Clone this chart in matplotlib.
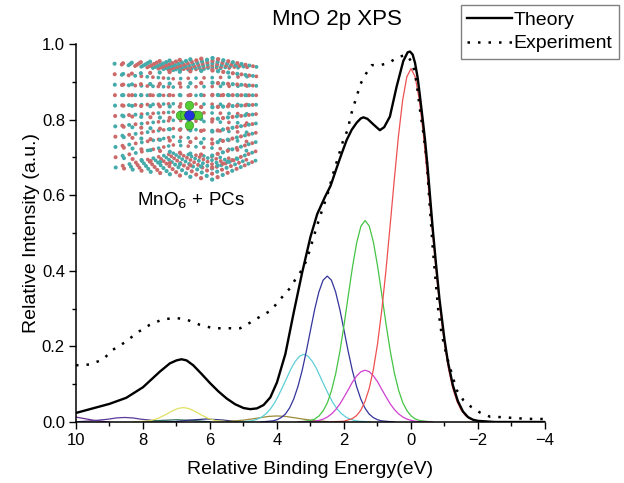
import numpy as np
import matplotlib
matplotlib.use('Agg')
import matplotlib.pyplot as plt

plt.rcParams['font.family'] = ['Liberation Sans', 'DejaVu Sans']

# theory (solid black)
theory_x = [10, 9.5, 9, 8.5, 8, 7.5, 7.2, 7.0, 6.85, 6.7, 6.5, 6.25, 6.0, 5.75, 5.5,
            5.25, 5.0, 4.8, 4.6, 4.4, 4.2, 4.0, 3.75, 3.5, 3.25, 3.0, 2.8, 2.57, 2.4,
            2.22, 2.07, 1.92, 1.77, 1.62, 1.5, 1.42, 1.3, 1.12, 0.93, 0.8, 0.63, 0.43,
            0.23, 0.1, 0.03, -0.05, -0.12, -0.2, -0.27, -0.35, -0.42, -0.5, -0.57,
            -0.65, -0.75, -0.85, -1.0, -1.1, -1.25, -1.4, -1.55, -1.7, -1.85, -2.0,
            -2.5, -4.0]
theory_y = [0.024, 0.036, 0.048, 0.064, 0.092, 0.133, 0.155, 0.163, 0.166, 0.163,
            0.150, 0.127, 0.103, 0.081, 0.062, 0.047, 0.037, 0.034, 0.036, 0.045,
            0.065, 0.105, 0.18, 0.29, 0.395, 0.49, 0.55, 0.595, 0.625, 0.672, 0.71,
            0.746, 0.773, 0.792, 0.803, 0.806, 0.802, 0.787, 0.772, 0.78, 0.808,
            0.887, 0.955, 0.978, 0.98, 0.972, 0.95, 0.91, 0.86, 0.80, 0.745, 0.67,
            0.595, 0.51, 0.415, 0.325, 0.218, 0.16, 0.097, 0.055, 0.028, 0.013,
            0.006, 0.003, 0.0, 0.0]

# experiment (dotted)
exp_x = [10, 9.84, 9.6, 9.2, 8.9, 8.5, 8.2, 7.8, 7.4, 7.0, 6.7, 6.3, 5.9, 5.5, 5.1,
         4.8, 4.5, 4.2, 3.96, 3.76, 3.61, 3.46, 3.26, 3.11, 2.87, 2.72, 2.5, 2.32,
         2.17, 2.02, 1.87, 1.82, 1.72, 1.62, 1.52, 1.37, 1.17, 0.93, 0.68, 0.38,
         0.13, -0.05, -0.17, -0.27, -0.37, -0.47, -0.52, -0.65, -0.81, -0.91,
         -1.07, -1.36, -1.56, -1.81, -2.06, -2.36, -2.66, -3.0, -3.35, -3.64, -4.0]
exp_y = [0.15, 0.151, 0.152, 0.165, 0.191, 0.213, 0.235, 0.257, 0.272, 0.275, 0.271,
         0.257, 0.248, 0.248, 0.248, 0.263, 0.279, 0.294, 0.318, 0.34, 0.354, 0.376,
         0.402, 0.429, 0.5, 0.543, 0.6, 0.658, 0.702, 0.746, 0.777, 0.804, 0.834,
         0.861, 0.892, 0.918, 0.944, 0.944, 0.949, 0.966, 0.971, 0.949, 0.896,
         0.825, 0.764, 0.693, 0.622, 0.46, 0.30, 0.235, 0.173, 0.085, 0.058, 0.039,
         0.025, 0.014, 0.013, 0.011, 0.009, 0.008, 0.008]

# components (thin coloured lines)
red_x = [2.5, 2.0, 1.75, 1.625, 1.5, 1.375, 1.25, 1.125, 1.0, 0.875, 0.75, 0.625,
         0.5, 0.375, 0.25, 0.125, 0.0, -0.125, -0.25, -0.375, -0.5, -0.625, -0.75,
         -0.875, -1.0, -1.125, -1.25, -1.375, -1.5, -1.625, -1.75, -2.0, -2.5]
red_y = [0.0, 0.002, 0.009, 0.017, 0.031, 0.054, 0.088, 0.138, 0.206, 0.294, 0.399,
         0.518, 0.640, 0.756, 0.851, 0.913, 0.935, 0.913, 0.851, 0.756, 0.640, 0.518,
         0.399, 0.294, 0.206, 0.138, 0.088, 0.054, 0.031, 0.017, 0.009, 0.002, 0.0]
green_x = [3.37, 2.995, 2.87, 2.745, 2.62, 2.495, 2.37, 2.245, 2.12, 1.995, 1.87,
           1.745, 1.62, 1.495, 1.37, 1.245, 1.12, 0.995, 0.87, 0.745, 0.62, 0.495,
           0.37, 0.245, 0.12, -0.005, -0.13, -0.255, -0.63]
green_y = [0.0, 0.004, 0.008, 0.016, 0.030, 0.051, 0.084, 0.129, 0.188, 0.259, 0.336,
           0.411, 0.475, 0.518, 0.533, 0.518, 0.475, 0.411, 0.336, 0.259, 0.188, 0.129,
           0.084, 0.051, 0.030, 0.016, 0.008, 0.004, 0.0]
magenta_y = [0.0, 0.001, 0.002, 0.0042, 0.0076, 0.0132, 0.0215, 0.033, 0.048, 0.0665,
             0.086, 0.106, 0.122, 0.133, 0.137, 0.133, 0.122, 0.106, 0.086, 0.0665,
             0.048, 0.033, 0.0215, 0.0132, 0.0076, 0.0042, 0.002, 0.001, 0.0]
blue_x = [4.5, 4.125, 4.0, 3.875, 3.75, 3.625, 3.5, 3.375, 3.25, 3.125, 3.0, 2.875,
          2.75, 2.625, 2.5, 2.375, 2.25, 2.125, 2.0, 1.875, 1.75, 1.625, 1.5, 1.375,
          1.25, 1.125, 1.0, 0.875, 0.5]
blue_y = [0.0, 0.003, 0.006, 0.0117, 0.021, 0.037, 0.061, 0.094, 0.136, 0.187, 0.243,
          0.298, 0.344, 0.375, 0.386, 0.375, 0.344, 0.298, 0.243, 0.187, 0.136, 0.094,
          0.061, 0.037, 0.021, 0.0117, 0.006, 0.003, 0.0]
cyan_x = [5.2, 4.825, 4.7, 4.575, 4.45, 4.325, 4.2, 4.075, 3.95, 3.825, 3.7, 3.575,
          3.45, 3.325, 3.2, 3.075, 2.95, 2.825, 2.7, 2.575, 2.45, 2.325, 2.2, 2.075,
          1.95, 1.825, 1.7, 1.575, 1.2]
cyan_y = [0.0, 0.0023, 0.0043, 0.0079, 0.0135, 0.022, 0.034, 0.050, 0.071, 0.094,
          0.118, 0.142, 0.161, 0.174, 0.179, 0.174, 0.161, 0.142, 0.118, 0.094, 0.071,
          0.050, 0.034, 0.022, 0.0135, 0.0079, 0.0043, 0.0023, 0.0]
olive_x = [5.5, 5.0, 4.75, 4.5, 4.25, 4.0, 3.75, 3.5, 3.25, 3.0, 2.5]
olive_y = [0.001, 0.005, 0.008, 0.0115, 0.0148, 0.016, 0.0148, 0.0115, 0.008, 0.005, 0.001]
yellow_x = [8.3, 7.8, 7.55, 7.3, 7.175, 7.05, 6.925, 6.8, 6.675, 6.55, 6.425, 6.3,
            6.05, 5.8, 5.3]
yellow_y = [0.0, 0.003, 0.0095, 0.0205, 0.027, 0.0326, 0.0365, 0.038, 0.0365, 0.0326,
            0.027, 0.0205, 0.0095, 0.003, 0.0]
purple_x = [10, 9.5, 9.05, 8.8, 8.55, 8.3, 8.05, 7.6, 7.0]
purple_y = [0.0005, 0.0033, 0.0073, 0.0107, 0.012, 0.0107, 0.0073, 0.0033, 0.0005]
violet_x = [10, 9.75, 9.5, 9.25, 9.0]
violet_y = [0.013, 0.009, 0.005, 0.002, 0.0]
teal_x = [8.0, 7.5, 7.0, 6.5, 6.0]
teal_y = [0.0005, 0.004, 0.006, 0.004, 0.0005]
navy_x = [7.1, 6.6, 6.1, 5.6, 5.1]
navy_y = [0.0005, 0.005, 0.008, 0.005, 0.0005]

components = [
    (violet_x, violet_y, '#6a2d8a'),
    (purple_x, purple_y, '#5a3a9a'),
    (teal_x, teal_y, '#2f6f5f'),
    (navy_x, navy_y, '#303080'),
    (yellow_x, yellow_y, '#e0e060'),
    (olive_x, olive_y, '#9a8a3a'),
    (cyan_x, cyan_y, '#5ccfd6'),
    (blue_x, blue_y, '#34349c'),
    (green_x, green_y, '#44c444'),
    (green_x, magenta_y, '#d040d0'),
    (red_x, red_y, '#ee5050'),
]

fig = plt.figure(figsize=(6.24, 4.83), dpi=100)
ax = fig.add_axes([76 / 624, 1 - 422 / 483, 469 / 624, 378 / 483])

for cx, cy, col in components:
    ax.plot(cx, cy, color=col, lw=0.9)

ln_t, = ax.plot(theory_x, theory_y, color='black', lw=1.7, label='Theory')
ln_e, = ax.plot(exp_x, exp_y, color='black', lw=1.8, linestyle=(0, (1, 3.2)),
                label='Experiment')

ax.set_xlim(10, -4)
ax.set_ylim(0, 1.0)
ax.set_xticks(np.arange(10, -4.1, -2))
ax.set_xticks(np.arange(9, -4, -2), minor=True)
ax.set_yticks(np.arange(0, 1.01, 0.2))
ax.set_yticks(np.arange(0.1, 1.0, 0.2), minor=True)
ax.set_xticklabels(['10', '8', '6', '4', '2', '0', '\u22122', '\u22124'])
ax.yaxis.set_major_formatter(matplotlib.ticker.FormatStrFormatter('%.1f'))
ax.tick_params(which='major', direction='out', length=5, width=1, labelsize=12, pad=3)
ax.tick_params(which='minor', direction='out', length=3, width=1)
for s in ['top', 'right']:
    ax.spines[s].set_visible(False)
for s in ['left', 'bottom']:
    ax.spines[s].set_linewidth(1.1)
ax.set_xlabel('Relative Binding Energy(eV)', fontsize=14, labelpad=9)
ax.set_ylabel('Relative Intensity (a.u.)', fontsize=14, labelpad=1)

fig.text(337 / 624, 1 - 19 / 483, 'MnO 2p XPS', fontsize=16, ha='center', va='center')

leg = fig.legend(handles=[ln_t, ln_e], loc='upper right',
                 bbox_to_anchor=(619 / 624, 1 - 5 / 483), borderaxespad=0,
                 fontsize=14, handlelength=2.3, handletextpad=0.1, borderpad=0.33,
                 labelspacing=0.3, fancybox=False, framealpha=1)
leg.get_frame().set_edgecolor('#808080')
leg.get_frame().set_linewidth(1.0)

# inset: MnO6 cluster in point charges (outer shell of a rock-salt block)
ins = fig.add_axes([112 / 624, 1 - 182 / 483, 147 / 624, 134 / 483])
ins.axis('off')
n = 5
idx = np.arange(-n, n + 1)
I, J, K = np.meshgrid(idx, idx, idx, indexing='ij')
I, J, K = I.ravel(), J.ravel(), K.ravel()
parity = (I + J + K) % 2
rad = np.abs(I) + np.abs(J) + np.abs(K)
shell = (np.abs(I) == n) | (np.abs(J) == n) | (np.abs(K) == n)
th = np.radians(30)
ph = np.radians(3)
X = I * np.cos(th) - K * np.sin(th)
Z = I * np.sin(th) + K * np.cos(th)
Y = J * np.cos(ph) - Z * np.sin(ph)
D = J * np.sin(ph) + Z * np.cos(ph)
cam = 36.0
persp = cam / (cam - D)
X, Y = X * persp, Y * persp
order = np.argsort(D)
cols = np.where(parity == 0, '#cc6a6a', '#44aaaa')
sel = order[shell[order]]
ins.scatter(X[sel], Y[sel], s=8 * persp[sel], c=cols[sel], edgecolors='none')
oct_mask = rad == 1
ins.scatter(X[oct_mask], Y[oct_mask], s=38, c='#55cc33', edgecolors='#338822', lw=0.4)
ins.scatter([0], [0], s=48, c='#2233dd', edgecolors='#111188', lw=0.4, zorder=3)
ym = np.abs(Y).max() + 0.25
ins.set_xlim(X.min() - 0.25, X.max() + 0.25)
ins.set_ylim(-ym, ym)

fig.text(191 / 624, 1 - 201 / 483, 'MnO$_6$ + PCs', fontsize=13.5, ha='center', va='center')

fig.savefig('out.png', dpi=100)
